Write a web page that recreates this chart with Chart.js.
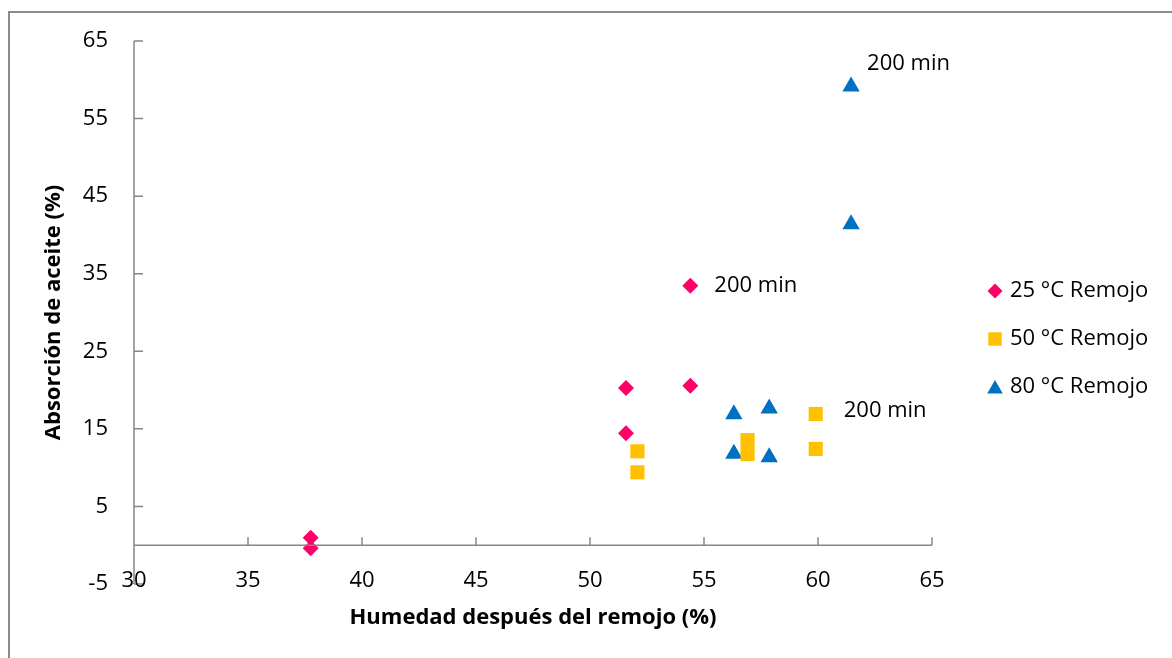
<!DOCTYPE html>
<html>
<head>
<meta charset="utf-8">
<script src="https://cdn.jsdelivr.net/npm/chart.js@4/dist/chart.umd.min.js"></script>
<style>
  html, body { margin: 0; padding: 0; background: #fff; }
  canvas { display: block; }
</style>
</head>
<body>
<canvas id="chart" width="1172" height="658"></canvas>
<script>
// Tick values for both axes
const xTicks = [30, 35, 40, 45, 50, 55, 60, 65];
const yTicks = [-5, 5, 15, 25, 35, 45, 55, 65];

// Series names
const seriesNames = ['25 °C Remojo', '50 °C Remojo', '80 °C Remojo'];

// Moisture after soaking (%) and oil absorption (%) per soaking temperature
const humedad25 = [37.75, 37.75, 51.58, 51.58, 54.40, 54.40];
const aceite25  = [0.95, -0.40, 20.27, 14.42, 20.57, 33.44];

const humedad50 = [52.08, 52.08, 56.91, 56.91, 59.90, 59.90];
const aceite50  = [12.11, 9.40, 13.55, 11.75, 16.92, 12.41];

const humedad80 = [56.31, 56.31, 57.86, 57.86, 61.45, 61.45];
const aceite80  = [16.87, 11.79, 17.64, 11.33, 59.12, 41.37];

// Point annotations: series index, point index, text
const noteSeries = [0, 1, 2];
const noteIndex  = [5, 4, 4];
const noteText   = ['200 min', '200 min', '200 min'];

const FONT = '"Open Sans", "Noto Sans", sans-serif';
const FONT_SIZE = 22;
const AXIS_GRAY = '#868686';

const toPoints = (xs, ys) => xs.map((x, i) => ({ x: x, y: ys[i] }));

const styles = [
  { color: '#FF0066', shape: 'rectRot', r: 8, legendR: 7.5 },
  { color: '#FFC000', shape: 'rect', r: 10, legendR: 9.5 },
  { color: '#0070C0', shape: 'triangle', r: 10, legendR: 9 }
];

const seriesData = [
  toPoints(humedad25, aceite25),
  toPoints(humedad50, aceite50),
  toPoints(humedad80, aceite80)
];

const datasets = seriesData.map((pts, i) => ({
  label: seriesNames[i],
  data: pts,
  pointStyle: styles[i].shape,
  pointRadius: styles[i].r,
  pointHoverRadius: styles[i].r,
  backgroundColor: styles[i].color,
  borderColor: styles[i].color,
  borderWidth: 0,
  showLine: false
}));

// Outer frame, axis lines with inward ticks, x labels at the bottom edge,
// legend and point notes
const decorations = {
  id: 'decorations',
  beforeDraw(chart) {
    const ctx = chart.ctx;
    ctx.save();
    ctx.strokeStyle = '#8C8C8C';
    ctx.lineWidth = 2;
    ctx.beginPath();
    ctx.moveTo(9, chart.height);
    ctx.lineTo(9, 12);
    ctx.lineTo(chart.width, 12);
    ctx.stroke();
    ctx.restore();
  },
  afterDatasetsDraw(chart) {
    const ctx = chart.ctx;
    const xs = chart.scales.x, ys = chart.scales.y;
    const x0 = xs.getPixelForValue(xTicks[0]);
    const yZero = ys.getPixelForValue(0);
    ctx.save();
    ctx.strokeStyle = AXIS_GRAY;
    ctx.lineWidth = 1.5;
    // vertical axis
    ctx.beginPath();
    ctx.moveTo(x0, ys.getPixelForValue(yTicks[0]));
    ctx.lineTo(x0, ys.getPixelForValue(yTicks[yTicks.length - 1]));
    yTicks.forEach(v => {
      const p = ys.getPixelForValue(v);
      ctx.moveTo(x0, p);
      ctx.lineTo(x0 + 9, p);
    });
    // horizontal axis at zero
    ctx.moveTo(x0, yZero);
    ctx.lineTo(xs.getPixelForValue(xTicks[xTicks.length - 1]), yZero);
    xTicks.forEach(v => {
      const p = xs.getPixelForValue(v);
      ctx.moveTo(p, yZero);
      ctx.lineTo(p, yZero - 8);
    });
    ctx.stroke();

    ctx.fillStyle = '#000';
    ctx.font = FONT_SIZE + 'px ' + FONT;
    ctx.textBaseline = 'middle';

    // x tick labels along the bottom of the plot area
    ctx.textAlign = 'center';
    const yLab = ys.getPixelForValue(yTicks[0]) - 3;
    xTicks.forEach(v => ctx.fillText(String(v), xs.getPixelForValue(v), yLab));

    // point notes
    ctx.textAlign = 'left';
    const offsets = [[24, 0], [28, -3], [16, -23]];
    noteSeries.forEach((s, k) => {
      const el = chart.getDatasetMeta(s).data[noteIndex[k]];
      ctx.fillText(noteText[k], el.x + offsets[k][0], el.y + offsets[k][1]);
    });

    // legend
    const lx = 995, tx = 1010, ly0 = 291, step = 48;
    chart.data.datasets.forEach((ds, i) => {
      const y = ly0 + i * step;
      ctx.fillStyle = ds.backgroundColor;
      ctx.strokeStyle = ds.backgroundColor;
      Chart.helpers.drawPoint(ctx, {
        pointStyle: ds.pointStyle,
        radius: styles[i].legendR,
        rotation: 0,
        borderWidth: 0
      }, lx, y + (ds.pointStyle === 'triangle' ? 2 : 0));
      ctx.fillStyle = '#000';
      ctx.fillText(ds.label, tx, y);
    });
    ctx.restore();
  }
};

new Chart(document.getElementById('chart'), {
  type: 'scatter',
  data: { datasets },
  options: {
    responsive: false,
    animation: false,
    events: [],
    layout: { padding: { left: 0, top: 41, right: 240, bottom: 0 } },
    plugins: {
      legend: { display: false },
      tooltip: { enabled: false }
    },
    scales: {
      x: {
        type: 'linear',
        min: 30, max: 65,
        afterBuildTicks: s => { s.ticks = xTicks.map(v => ({ value: v })); },
        afterFit: s => { s.height = 74; },
        grid: { display: false, drawTicks: false },
        border: { display: false },
        ticks: { display: false },
        title: {
          display: true,
          text: 'Humedad después del remojo (%)',
          color: '#000',
          font: { family: FONT, size: FONT_SIZE, weight: 'bold' },
          padding: { top: 0, bottom: 27 }
        }
      },
      y: {
        type: 'linear',
        min: -5, max: 65,
        afterBuildTicks: s => { s.ticks = yTicks.map(v => ({ value: v })); },
        afterFit: s => { s.width = 134; },
        grid: { display: false, drawTicks: false },
        border: { display: false },
        ticks: {
          color: '#000',
          font: { family: FONT, size: FONT_SIZE },
          padding: 26,
          autoSkip: false
        },
        title: {
          display: true,
          text: 'Absorción de aceite (%)',
          color: '#000',
          font: { family: FONT, size: FONT_SIZE, weight: 'bold' },
          padding: { top: 41, bottom: 0 }
        }
      }
    }
  },
  plugins: [decorations]
});
</script>
</body>
</html>
